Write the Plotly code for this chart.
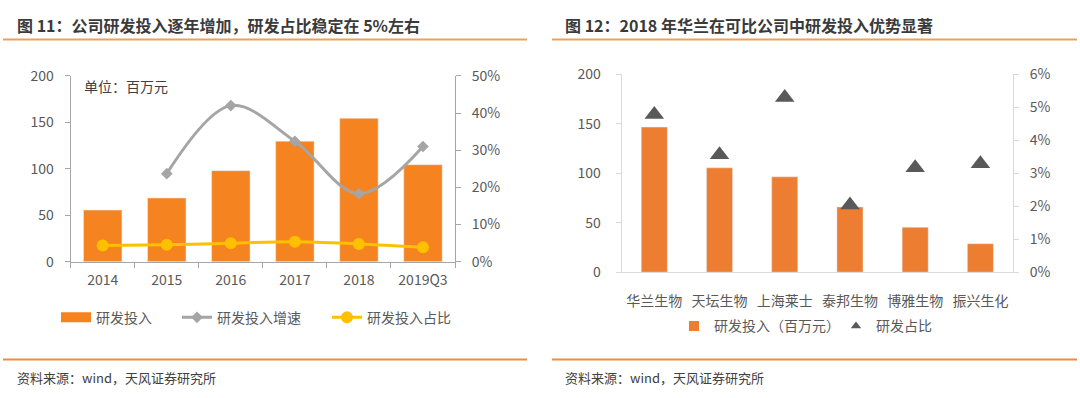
import plotly.graph_objects as go

# ---------------- data ----------------
years = ["2014", "2015", "2016", "2017", "2018", "2019Q3"]
rd_spend = [55.6, 68.6, 98.0, 129.7, 154.3, 104.4]          # 研发投入 (百万元)
rd_growth = [None, 0.237, 0.420, 0.324, 0.183, 0.310]       # 研发投入增速
rd_share = [0.0435, 0.046, 0.0495, 0.054, 0.048, 0.039]     # 研发投入占比

companies = ["华兰生物", "天坛生物", "上海莱士", "泰邦生物", "博雅生物", "振兴生化"]
comp_spend = [146.7, 105.5, 96.4, 65.9, 45.3, 28.8]         # 研发投入（百万元）
comp_share = [0.0478, 0.0356, 0.053, 0.0204, 0.0317, 0.0329]  # 研发占比

left_ticks = [0, 50, 100, 150, 200]

# ---------------- style ----------------
W, H = 1080, 398
FONT = "Noto Sans CJK SC"
ORANGE1 = "#F5831F"
ORANGE2 = "#ED7D31"
GRAY = "#A5A5A5"
YELLOW = "#FFC000"
TRI = "#595959"
TXT = "#595959"
AX1 = "#A6A6A6"
AX2 = "#D9D9D9"


def px(x):
    return x / W


def py(y):
    return 1 - y / H


fig = go.Figure()

# ---- left chart ----
fig.add_trace(go.Bar(x=years, y=rd_spend, name="研发投入", marker_color=ORANGE1,
                     width=0.6, xaxis="x", yaxis="y", showlegend=False))
fig.add_trace(go.Scatter(x=[years[0]], y=[None], name="研发投入", mode="lines",
                         line=dict(color=ORANGE1, width=10), xaxis="x", yaxis="y",
                         legend="legend", showlegend=True))
fig.add_trace(go.Scatter(x=years, y=rd_growth, name="研发投入增速", mode="lines+markers",
                         line=dict(color=GRAY, width=3, shape="spline", smoothing=1),
                         marker=dict(symbol="diamond", size=9, color=GRAY),
                         xaxis="x", yaxis="y2", legend="legend3"))
fig.add_trace(go.Scatter(x=years, y=rd_share, name="研发投入占比", mode="lines+markers",
                         line=dict(color=YELLOW, width=3, shape="spline", smoothing=1),
                         marker=dict(symbol="circle", size=12, color=YELLOW),
                         xaxis="x", yaxis="y2", legend="legend4"))

# ---- right chart ----
fig.add_trace(go.Bar(x=companies, y=comp_spend, name="研发投入（百万元）", marker_color=ORANGE2,
                     width=0.4, xaxis="x2", yaxis="y3", showlegend=False))
fig.add_trace(go.Scatter(x=[companies[0]], y=[None], name="研发投入（百万元）", mode="markers",
                         marker=dict(symbol="square", size=10, color=ORANGE2),
                         xaxis="x2", yaxis="y3", legend="legend2", showlegend=True))
fig.add_trace(go.Scatter(x=companies, y=comp_share, name="研发占比", mode="markers",
                         marker=dict(symbol="triangle-up", size=17, color=TRI),
                         xaxis="x2", yaxis="y4", showlegend=False))
fig.add_trace(go.Scatter(x=[companies[0]], y=[None], name="研发占比", mode="markers",
                         marker=dict(symbol="triangle-up", size=9, color=TRI),
                         xaxis="x2", yaxis="y4", legend="legend5", showlegend=True))

tickfont = dict(family=FONT, size=14, color=TXT)


def leg(x, y):
    return dict(orientation="h", x=px(x), xanchor="left", y=py(y), yanchor="middle",
                font=dict(family=FONT, size=14, color=TXT), bgcolor="rgba(0,0,0,0)",
                borderwidth=0, itemclick=False, itemdoubleclick=False)


fig.update_layout(
    width=W, height=H,
    margin=dict(l=0, r=0, t=0, b=0),
    paper_bgcolor="white", plot_bgcolor="white",
    font=dict(family=FONT, size=14, color=TXT),
    barmode="overlay",
    xaxis=dict(domain=[px(70.7), px(455)], anchor="y", type="category",
               showline=True, linecolor=AX1, linewidth=1,
               ticks="outside", tickson="boundaries", ticklen=5, tickcolor=AX1,
               tickfont=tickfont, showgrid=False, zeroline=False, ticklabelstandoff=5),
    yaxis=dict(domain=[py(264), py(68.3)], anchor="x", range=[0, 200],
               tickvals=left_ticks, showline=True, linecolor=AX1, linewidth=1,
               ticks="outside", ticklen=5, tickcolor=AX1, tickfont=tickfont,
               showgrid=False, zeroline=False, ticklabelstandoff=8),
    yaxis2=dict(overlaying="y", side="right", anchor="x", range=[0, 0.5], dtick=0.1,
                tickformat=".0%", showline=True, linecolor=AX1, linewidth=1,
                ticks="outside", ticklen=5, tickcolor=AX1, tickfont=tickfont,
                showgrid=False, zeroline=False, ticklabelstandoff=8),
    xaxis2=dict(domain=[px(621.7), px(1013)], anchor="y3", type="category",
                showline=True, linecolor=AX2, linewidth=1, ticks="",
                tickfont=tickfont, showgrid=False, zeroline=False, ticklabelstandoff=16),
    yaxis3=dict(domain=[py(275), py(66.7)], anchor="x2", range=[0, 200],
                tickvals=left_ticks, showline=True, linecolor=AX2, linewidth=1,
                ticks="outside", ticklen=5, tickcolor=AX2, tickfont=tickfont,
                showgrid=False, zeroline=False, ticklabelstandoff=12),
    yaxis4=dict(overlaying="y3", side="right", anchor="x2", range=[0, 0.06], dtick=0.01,
                tickformat=".0%", showline=True, linecolor=AX2, linewidth=1,
                ticks="outside", ticklen=5, tickcolor=AX2, tickfont=tickfont,
                showgrid=False, zeroline=False, ticklabelstandoff=8),
    legend=leg(56, 323),
    legend3=leg(177, 323),
    legend4=leg(327, 323),
    legend2=leg(674, 332),
    legend5=leg(836, 332),
)

# titles, notes, sources
ann = [
    dict(text="<b>图 11：公司研发投入逐年增加，研发占比稳定在 5%左右</b>", x=px(15), y=py(15),
         font=dict(family=FONT, size=16, color="#3A3A3A")),
    dict(text="<b>图 12：2018 年华兰在可比公司中研发投入优势显著</b>", x=px(563), y=py(15),
         font=dict(family=FONT, size=16, color="#3A3A3A")),
    dict(text="单位：百万元", x=px(82), y=py(79),
         font=dict(family=FONT, size=14, color="#404040")),
    dict(text="资料来源：wind，天风证券研究所", x=px(15), y=py(386),
         font=dict(family=FONT, size=13, color="#404040")),
    dict(text="资料来源：wind，天风证券研究所", x=px(563), y=py(386),
         font=dict(family=FONT, size=13, color="#404040")),
]
for a in ann:
    fig.add_annotation(xref="paper", yref="paper", xanchor="left", yanchor="middle",
                       showarrow=False, **a)

shapes = [
    (3, 527, 30, "#E9A25C"),
    (552, 1077, 30, "#E9A25C"),
    (3, 527, 367, "#F08C3C"),
    (552, 1077, 367, "#F08C3C"),
]
for x0, x1, yy, c in shapes:
    fig.add_shape(type="line", xref="paper", yref="paper", x0=px(x0), x1=px(x1),
                  y0=py(yy), y1=py(yy), line=dict(color=c, width=2))

fig.write_html("out.html", config={"displayModeBar": False},
               post_script="document.body.style.margin='0';document.body.style.overflow='hidden';")
